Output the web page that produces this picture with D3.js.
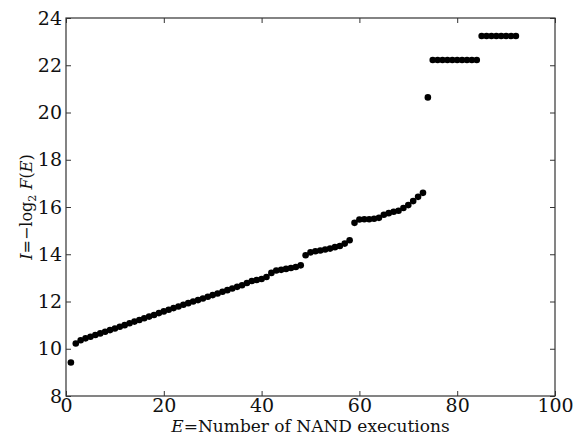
<!DOCTYPE html>
<html>
<head>
<meta charset="utf-8">
<script src="https://cdn.jsdelivr.net/npm/d3@7"></script>
<style>
  body { margin: 0; background: #fff; }
  svg text { font-family: "DejaVu Serif", serif; }
</style>
</head>
<body>
<svg id="chart" width="584" height="437"></svg>
<script>
// number of NAND executions (E) and information I = -log2 F(E)
var executions = d3.range(1, 93);
var info = [
  9.42, 10.22, 10.36, 10.44, 10.51, 10.58, 10.65, 10.72, 10.79, 10.86,
  10.93, 11.00, 11.08, 11.15, 11.22, 11.29, 11.36, 11.43, 11.51, 11.58,
  11.65, 11.72, 11.79, 11.86, 11.93, 12.00, 12.06, 12.13, 12.20, 12.27,
  12.34, 12.41, 12.48, 12.55, 12.62, 12.69, 12.78, 12.87, 12.91, 12.95,
  13.04, 13.21, 13.31, 13.34, 13.38, 13.42, 13.46, 13.53, 13.96, 14.08,
  14.13, 14.16, 14.20, 14.24, 14.30, 14.35, 14.45, 14.59, 15.33, 15.47,
  15.48, 15.48, 15.50, 15.54, 15.67, 15.74, 15.80, 15.84, 15.96, 16.08,
  16.25, 16.43, 16.60, 20.64, 22.22, 22.22, 22.22, 22.22, 22.22, 22.22,
  22.22, 22.22, 22.22, 22.22, 23.24, 23.24, 23.24, 23.24, 23.24, 23.24,
  23.24, 23.24
];
var xTicks = [0, 20, 40, 60, 80, 100];
var yTicks = [8, 10, 12, 14, 16, 18, 20, 22, 24];

var data = executions.map(function(e, i) { return {E: e, I: info[i]}; });

var mLeft = 66, mRight = 555, mTop = 18, mBottom = 396;

var x = d3.scaleLinear().domain([0, 100]).range([mLeft, mRight]);
var y = d3.scaleLinear().domain([8, 24]).range([mBottom, mTop]);

var svg = d3.select("#chart");
var tickLen = 5;

// frame
svg.append("rect")
  .attr("x", mLeft).attr("y", mTop)
  .attr("width", mRight - mLeft).attr("height", mBottom - mTop)
  .attr("fill", "none").attr("stroke", "#333").attr("stroke-width", 1.2);

// inside ticks on all four sides
var xb = d3.axisBottom(x).tickValues(xTicks).tickSize(-tickLen).tickPadding(2).tickFormat(d3.format("d"));
var xt = d3.axisTop(x).tickValues(xTicks).tickSize(-tickLen).tickFormat("");
var yl = d3.axisLeft(y).tickValues(yTicks).tickSize(-tickLen).tickPadding(4).tickFormat(d3.format("d"));
var yr = d3.axisRight(y).tickValues(yTicks).tickSize(-tickLen).tickFormat("");

function style(g) {
  g.select(".domain").remove();
  g.selectAll(".tick line").attr("stroke", "#333");
  g.selectAll(".tick text").attr("fill", "#111").style("font-size", "19px");
}

svg.append("g").attr("transform", "translate(0," + mBottom + ")").call(xb).call(style);
svg.append("g").attr("transform", "translate(0," + mTop + ")").call(xt).call(style);
svg.append("g").attr("transform", "translate(" + mLeft + ",0)").call(yl).call(style);
svg.append("g").attr("transform", "translate(" + mRight + ",0)").call(yr).call(style);

// points
svg.append("g").selectAll("circle")
  .data(data)
  .enter().append("circle")
    .attr("cx", function(d) { return x(d.E); })
    .attr("cy", function(d) { return y(d.I); })
    .attr("r", 3.3)
    .attr("fill", "#000");

// x label
var xl = svg.append("text")
  .attr("x", (mLeft + mRight) / 2).attr("y", 432)
  .attr("text-anchor", "middle")
  .style("font-size", "17px").attr("fill", "#111");
xl.append("tspan").style("font-style", "italic").text("E");
xl.append("tspan").text("=Number of NAND executions");

// y label
var ylab = svg.append("text")
  .attr("transform", "translate(32," + ((mTop + mBottom) / 2) + ") rotate(-90)")
  .attr("text-anchor", "middle")
  .style("font-size", "16px").attr("fill", "#111");
ylab.append("tspan").style("font-style", "italic").text("I");
ylab.append("tspan").text("=\u2212log");
ylab.append("tspan").attr("dy", 4).style("font-size", "11px").text("2");
ylab.append("tspan").attr("dy", -4).text(" ");
ylab.append("tspan").style("font-style", "italic").text("F");
ylab.append("tspan").text("(");
ylab.append("tspan").style("font-style", "italic").text("E");
ylab.append("tspan").text(")");
</script>
</body>
</html>
